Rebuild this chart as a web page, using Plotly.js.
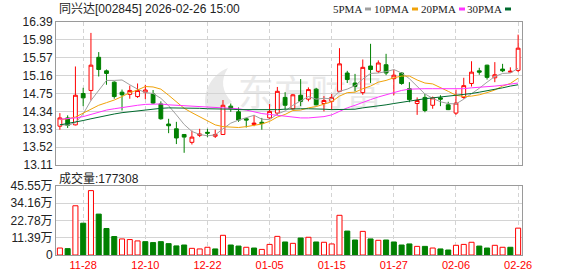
<!DOCTYPE html>
<html>
<head>
<meta charset="utf-8">
<script src="https://cdn.plot.ly/plotly-3.0.1.min.js"></script>
<style>html,body{margin:0;padding:0;background:#fff;}#chart{width:578px;height:276px;}</style>
</head>
<body>
<div id="chart"></div>
<script>
// ---- data ----
const dates = ["11-25","11-26","11-27","11-28","12-01","12-02","12-03","12-04","12-05","12-08",
  "12-09","12-10","12-11","12-12","12-15","12-16","12-17","12-18","12-19","12-22",
  "12-23","12-24","12-25","12-26","12-29","12-30","12-31","01-05","01-06","01-07",
  "01-08","01-09","01-12","01-13","01-14","01-15","01-16","01-19","01-20","01-21",
  "01-22","01-23","01-26","01-27","01-28","01-29","01-30","02-02","02-03","02-04",
  "02-05","02-06","02-09","02-10","02-11","02-12","02-13","02-24","02-25","02-26"];
const openP = [14.00,14.19,14.03,14.75,14.82,15.58,15.27,15.01,14.78,14.73,
  14.68,14.78,14.74,14.51,14.05,13.94,13.81,13.63,13.79,13.86,
  13.77,13.81,14.46,14.33,14.17,14.04,14.09,14.19,14.30,14.66,
  14.40,14.71,14.62,14.85,14.52,14.57,14.80,15.22,14.99,14.77,
  15.38,15.26,15.41,15.09,15.22,14.86,14.52,14.66,14.48,14.65,
  14.49,14.30,14.66,14.98,15.27,15.40,15.11,15.31,15.24,15.28];
const highP = [14.30,14.25,15.37,14.88,16.14,15.70,15.30,15.03,14.84,14.93,
  14.98,14.95,14.83,14.57,14.17,14.10,13.81,13.90,13.94,13.94,
  13.92,14.60,14.52,14.43,14.19,14.26,14.19,14.51,14.90,14.78,
  14.74,15.08,14.89,14.88,14.69,14.74,15.79,15.27,15.20,15.53,
  15.89,15.51,15.66,15.30,15.24,15.01,14.66,14.74,14.68,14.71,
  14.56,14.84,15.11,15.49,15.34,15.41,15.47,15.43,15.35,16.10];
const lowP = [13.92,13.96,14.02,14.46,14.59,15.14,14.95,14.63,14.36,14.63,
  14.65,14.62,14.51,14.15,13.84,13.59,13.39,13.58,13.75,13.75,
  13.73,13.80,14.33,14.10,13.97,14.00,13.92,14.17,14.26,14.38,
  14.38,14.46,14.57,14.48,14.34,14.37,14.78,14.99,14.80,14.72,
  14.99,15.22,15.17,14.71,14.95,14.55,14.26,14.32,14.40,14.46,
  14.37,14.26,14.63,14.91,15.18,15.07,15.01,15.24,15.23,15.24];
const closeP = [14.19,14.02,14.71,14.65,15.40,15.30,15.21,14.68,14.72,14.82,
  14.82,14.83,14.53,14.17,14.01,13.73,13.75,13.75,13.82,13.84,
  13.81,14.48,14.40,14.14,14.14,14.07,14.06,14.34,14.80,14.48,
  14.72,14.57,14.84,14.49,14.59,14.66,15.43,15.07,14.91,15.35,
  15.30,15.45,15.22,15.17,14.98,14.61,14.59,14.36,14.65,14.62,
  14.38,14.53,14.93,15.24,15.24,15.12,15.18,15.27,15.26,15.79];
const ma5 = [14.04,14.02,14.08,14.28,14.59,14.81,15.05,15.05,15.06,14.95,
  14.85,14.77,14.75,14.64,14.47,14.26,14.04,13.88,13.81,13.78,
  13.80,13.94,14.07,14.14,14.19,14.25,14.16,14.15,14.28,14.35,
  14.48,14.58,14.68,14.62,14.64,14.63,14.80,14.85,14.93,15.08,
  15.21,15.22,15.25,15.30,15.22,15.09,14.91,14.74,14.64,14.56,
  14.52,14.51,14.62,14.74,14.87,15.01,15.14,15.21,15.22,15.33];
const ma10 = [14.15,14.17,14.21,14.30,14.40,14.48,14.54,14.60,14.68,14.77,
  14.83,14.91,14.90,14.85,14.71,14.55,14.41,14.31,14.22,14.13,
  14.03,13.99,13.98,13.97,13.99,14.02,14.05,14.11,14.21,14.27,
  14.36,14.37,14.42,14.45,14.50,14.56,14.69,14.77,14.78,14.86,
  14.92,15.01,15.05,15.11,15.15,15.15,15.06,14.99,14.97,14.89,
  14.80,14.71,14.68,14.69,14.72,14.77,14.83,14.92,14.98,15.10];
const ma20 = [14.16,14.17,14.19,14.22,14.27,14.32,14.37,14.40,14.43,14.45,
  14.48,14.50,14.51,14.51,14.49,14.48,14.47,14.46,14.45,14.44,
  14.43,14.42,14.41,14.40,14.37,14.33,14.29,14.27,14.25,14.23,
  14.21,14.19,14.19,14.20,14.22,14.26,14.34,14.42,14.48,14.55,
  14.61,14.67,14.72,14.77,14.82,14.85,14.86,14.86,14.86,14.86,
  14.85,14.85,14.86,14.88,14.89,14.90,14.92,14.94,14.96,14.99];
const ma30 = [14.03,14.06,14.09,14.13,14.17,14.21,14.25,14.28,14.31,14.33,
  14.36,14.38,14.40,14.41,14.42,14.42,14.42,14.41,14.41,14.40,
  14.40,14.39,14.39,14.38,14.38,14.37,14.37,14.37,14.38,14.39,
  14.40,14.40,14.40,14.40,14.39,14.38,14.38,14.38,14.39,14.42,
  14.44,14.47,14.49,14.52,14.55,14.58,14.61,14.63,14.65,14.67,
  14.68,14.70,14.72,14.75,14.78,14.81,14.85,14.88,14.92,14.95];
const volWan = [4.6,4.2,32.5,21.0,42.5,27.0,17.5,12.2,10.6,10.2,
  9.3,8.8,8.2,8.8,7.5,6.0,6.6,4.4,4.0,5.1,
  4.0,13.0,6.6,5.9,5.1,4.6,3.7,7.0,12.3,8.6,
  7.7,11.2,11.7,8.6,8.4,7.3,26.2,15.8,9.9,15.6,
  10.6,9.7,9.9,8.6,6.6,7.3,5.7,5.7,4.6,4.0,
  3.3,6.4,7.0,8.4,5.9,4.6,6.4,5.1,5.1,17.7308];
// 1 = up day (red hollow volume bar), 0 = down day (green bar)
const volUp = [1,0,1,0,1,0,0,0,1,1, 1,0,0,0,0,0,0,1,1,1, 0,1,0,0,1,0,1,1,1,0,
  1,0,1,0,1,1,1,0,0,1, 0,1,0,0,0,0,1,0,1,0, 0,1,1,1,0,0,1,1,0,1];
const tickDates = ["11-28","12-10","12-22","01-05","01-15","01-27","02-06","02-26"];
const priceTicks = [13.11,13.52,13.93,14.34,14.75,15.16,15.57,15.98,16.39];
const volTicks = [0,11.39,22.78,34.16,45.55];
const volTickText = ["0","11.39万","22.78万","34.16万","45.55万"];
const titleText = "同兴达[002845] 2026-02-26 15:00";
const volLabel = "成交量:177308";
const maNames = ["5PMA","10PMA","20PMA","30PMA"];

// ---- styles ----
const RED = "#ff0000", GREEN = "#008000";
const maColors = ["#a0a0a0","#f0a30a","#ff33ff","#006a2e"];
const gridC = "#d4d4d4", borderC = "#9a9a9a";
const latin = "Liberation Sans, Arial, Noto Sans CJK SC, sans-serif";

const traces = [];
traces.push({
  type: "candlestick", x: dates, open: openP, high: highP, low: lowP, close: closeP,
  xaxis: "x", yaxis: "y",
  increasing: {line: {color: RED, width: 1}, fillcolor: "#ffffff"},
  decreasing: {line: {color: GREEN, width: 1}, fillcolor: GREEN},
  whiskerwidth: 0, hoverinfo: "skip"
});
[ma5, ma10, ma20, ma30].forEach((m, k) => {
  traces.push({type: "scatter", mode: "lines", x: dates, y: m, xaxis: "x", yaxis: "y",
    line: {color: maColors[k], width: 1}, hoverinfo: "skip"});
});
traces.push({
  type: "bar", x: dates, y: volWan, xaxis: "x2", yaxis: "y2",
  marker: {color: volUp.map(u => u ? "#ffffff" : GREEN),
           line: {color: volUp.map(u => u ? RED : GREEN), width: 1}},
  hoverinfo: "skip"
});

const W = 578, H = 276, ML = 56, MR = 56, MT = 22, MB = 21;
const pw = W - ML - MR, ph = H - MT - MB;
const px = a => (a - ML) / pw;          // absolute x pixel -> paper
const py = a => (H - MB - a) / ph;      // absolute y pixel -> paper

const annotations = [
  {text: titleText, xref: "paper", yref: "paper", x: px(57), y: py(9), xanchor: "left", yanchor: "middle",
   showarrow: false, font: {family: latin, size: 12, color: "#222"}},
  {text: volLabel, xref: "paper", yref: "paper", x: px(57), y: py(178), xanchor: "left", yanchor: "middle",
   showarrow: false, font: {family: latin, size: 12, color: "#222"}}
];
const dashX = [365, 412, 459, 505];
const shapes = [];
maNames.forEach((n, k) => {
  annotations.push({text: n, xref: "paper", yref: "paper", x: px(dashX[k] - 1), y: py(9), xanchor: "right", yanchor: "middle",
    showarrow: false, font: {family: "Liberation Serif, serif", size: 11, color: "#222"}});
  shapes.push({type: "line", xref: "paper", yref: "paper", x0: px(dashX[k]), x1: px(dashX[k] + 6), y0: py(9), y1: py(9),
    line: {color: maColors[k], width: 3}});
});

const wmSvg = '<svg xmlns="http://www.w3.org/2000/svg" width="190" height="56">' +
  '<path d="M8 46 C 4 30, 14 12, 30 6 C 22 18, 24 30, 34 40 C 26 44, 16 48, 8 46 Z" fill="#e9e9e9"/>' +
  '<text x="40" y="44" font-family="Noto Sans CJK SC" font-size="36" fill="#e9e9e9">东方财富</text></svg>';

const axisBase = {showline: true, mirror: true, linecolor: borderC, linewidth: 1, zeroline: false, ticks: "", fixedrange: true};
const layout = {
  width: W, height: H,
  margin: {l: ML, r: MR, t: MT, b: MB, pad: 0},
  paper_bgcolor: "#ffffff", plot_bgcolor: "#ffffff",
  showlegend: false, bargap: 0.35, boxgap: 0.3,
  xaxis: Object.assign({}, axisBase, {type: "category", range: [-0.5, dates.length - 0.5], anchor: "y",
    tickmode: "array", tickvals: tickDates, showticklabels: false, showgrid: true, gridcolor: gridC,
    griddash: "4px,3px", gridwidth: 1, rangeslider: {visible: false}}),
  xaxis2: Object.assign({}, axisBase, {type: "category", range: [-0.5, dates.length - 0.5], anchor: "y2", matches: "x",
    tickmode: "array", tickvals: tickDates, showticklabels: true, showgrid: true, gridcolor: gridC,
    griddash: "4px,3px", gridwidth: 1, tickfont: {family: latin, size: 11, color: RED}}),
  yaxis: Object.assign({}, axisBase, {domain: [py(165), 1], range: [13.11, 16.39], anchor: "x",
    tickmode: "array", tickvals: priceTicks, ticktext: priceTicks.map(v => v.toFixed(2)),
    showgrid: true, gridcolor: gridC, tickfont: {family: latin, size: 12, color: "#222"}}),
  yaxis2: Object.assign({}, axisBase, {domain: [0, py(186)], range: [0, 45.55], anchor: "x2",
    tickmode: "array", tickvals: volTicks, ticktext: volTickText,
    showgrid: true, gridcolor: gridC, tickfont: {family: latin, size: 12, color: "#222"}}),
  annotations: annotations,
  shapes: shapes,
  images: [{source: "data:image/svg+xml;charset=utf-8," + encodeURIComponent(wmSvg),
    xref: "paper", yref: "paper", x: px(198), y: py(62), sizex: 190 / pw, sizey: 56 / ph,
    xanchor: "left", yanchor: "top", sizing: "stretch", layer: "below", opacity: 1}]
};
Plotly.newPlot("chart", traces, layout, {displayModeBar: false, staticPlot: true});
</script>
</body>
</html>
